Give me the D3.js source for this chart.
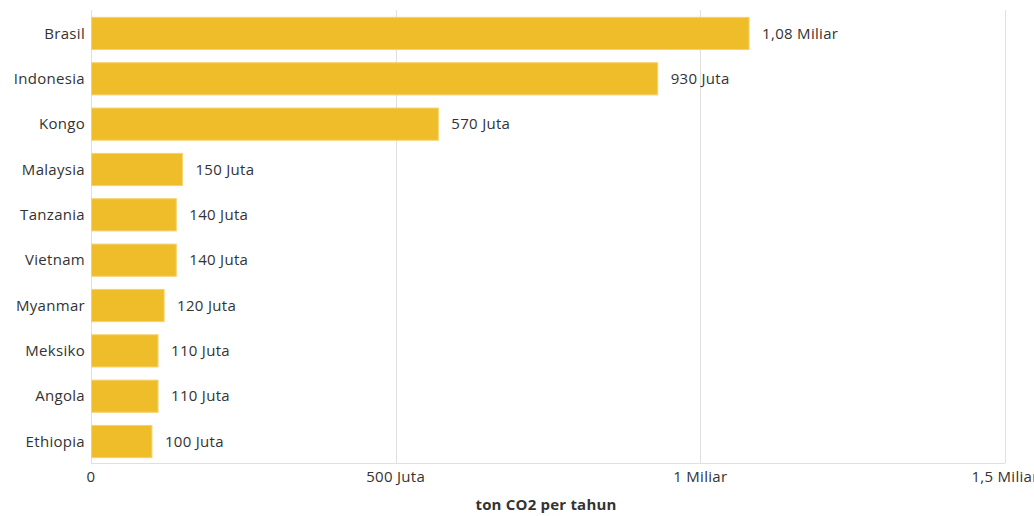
<!DOCTYPE html>
<meta charset="utf-8">
<title>Emisi CO2 per tahun</title>
<style>
  body { margin: 0; background: #fff; }
  svg { font-family: "Open Sans", "Noto Sans", sans-serif; }
  .grid line { stroke: #e0e0e0; stroke-width: 1px; }
  .bar { fill: #f0bd2a; stroke: #f5d270; stroke-width: 1px; }
  .label, .axis text { fill: #333; font-size: 15px; letter-spacing: 0.3px; }
  .title { fill: #333; font-size: 15px; font-weight: bold; letter-spacing: 0.2px; }
</style>
<svg width="1034" height="516"></svg>
<script src="https://d3js.org/d3.v7.min.js"></script>
<script>
  var countries = ["Brasil", "Indonesia", "Kongo", "Malaysia", "Tanzania",
    "Vietnam", "Myanmar", "Meksiko", "Angola", "Ethiopia"];
  var values = [1.08e9, 930e6, 570e6, 150e6, 140e6, 140e6, 120e6, 110e6, 110e6, 100e6];
  var valueLabels = ["1,08 Miliar", "930 Juta", "570 Juta", "150 Juta", "140 Juta",
    "140 Juta", "120 Juta", "110 Juta", "110 Juta", "100 Juta"];
  var ticks = [0, 500e6, 1e9, 1.5e9];
  var tickLabels = ["0", "500 Juta", "1 Miliar", "1,5 Miliar"];

  var svg = d3.select("svg");
  var plotLeft = 91, plotRight = 1005, plotTop = 10, plotBottom = 463;

  var x = d3.scaleLinear().domain([0, 1.5e9]).range([plotLeft, plotRight]);
  var y = d3.scaleBand().domain(countries).range([plotTop + 1, plotBottom + 1])
    .paddingInner(0.29).paddingOuter(0.14);

  // vertical grid
  svg.append("g").attr("class", "grid")
    .selectAll("line").data(ticks).enter().append("line")
    .attr("x1", d => Math.round(x(d)) + 0.5).attr("x2", d => Math.round(x(d)) + 0.5)
    .attr("y1", plotTop).attr("y2", plotBottom);

  // baseline
  svg.append("line")
    .attr("x1", plotLeft).attr("x2", plotRight)
    .attr("y1", plotBottom + 0.5).attr("y2", plotBottom + 0.5)
    .attr("stroke", "#e0e0e0");

  svg.selectAll(".bar").data(values).enter().append("rect")
    .attr("class", "bar")
    .attr("x", x(0) + 0.5)
    .attr("y", (d, i) => y(countries[i]))
    .attr("width", d => x(d) - x(0) - 0.5)
    .attr("height", y.bandwidth());

  svg.selectAll(".label").data(values).enter().append("text")
    .attr("class", "label")
    .attr("x", d => x(d) + 13)
    .attr("y", (d, i) => y(countries[i]) + y.bandwidth() / 2)
    .attr("dy", "0.35em")
    .text((d, i) => valueLabels[i]);

  // category axis
  svg.append("g").attr("class", "axis")
    .selectAll("text").data(countries).enter().append("text")
    .attr("x", plotLeft - 6)
    .attr("y", d => y(d) + y.bandwidth() / 2)
    .attr("dy", "0.35em")
    .attr("text-anchor", "end")
    .text(d => d);

  // value axis
  svg.append("g").attr("class", "axis")
    .selectAll("text").data(ticks).enter().append("text")
    .attr("x", d => x(d))
    .attr("y", 477)
    .attr("dy", "0.35em")
    .attr("text-anchor", "middle")
    .text((d, i) => tickLabels[i]);

  svg.append("text").attr("class", "title")
    .attr("x", x(0.75e9) - 2)
    .attr("y", 505)
    .attr("dy", "0.35em")
    .attr("text-anchor", "middle")
    .text("ton CO2 per tahun");
</script>
